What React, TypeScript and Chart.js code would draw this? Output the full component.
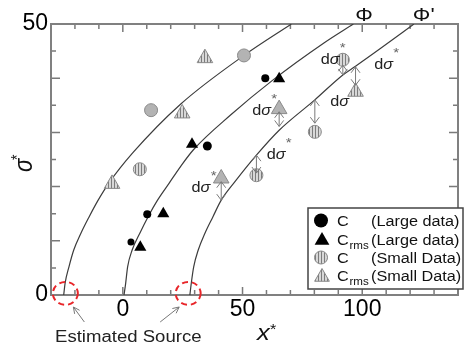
import React, { useEffect, useRef } from 'react';
import { Chart, registerables } from 'chart.js';
Chart.register(...registerables);

// ---------------- data ----------------
const xRange = [-30, 140];
const yRange = [0, 50];
const xTickLabels = [0, 50, 100];
const yTickLabels = [0, 50];

// curves (left source curve, Φ, Φ')
const curveAX = [-24.7, -24.1, -22.5, -20.5, -17.5, -14.1, -10.3, -5.9, 4.3, 24.1, 50.6, 70.4];
const curveAY = [0, 2.2, 5.2, 8.3, 11.4, 14.4, 17.5, 20.6, 26.3, 35.2, 44.2, 50];
const curvePhiX = [0.5, 1.2, 2.0, 3.9, 7.1, 10.5, 14.5, 19.3, 24.1, 29.5, 45, 62.5, 84, 96.3];
const curvePhiY = [0, 2.2, 5.2, 8.3, 11.4, 14.4, 17.5, 20.6, 23.7, 26.8, 33.2, 39.6, 46.5, 50];
const curvePhi2X = [28, 28.6, 29.6, 31.5, 34.3, 37.6, 41.1, 47, 55.8, 65.3, 80.2, 91.9, 97.2, 108, 121.6];
const curvePhi2Y = [0, 2.2, 5.2, 8.3, 11.4, 14.4, 17.5, 21, 25.8, 30.4, 36, 40.6, 42.2, 45.6, 50];

// markers
const cLargeX = [3.4, 10.2, 35.3, 59.5];
const cLargeY = [9.8, 14.9, 27.5, 40.0];
const cRmsLargeX = [7.3, 16.9, 28.9, 65.3];
const cRmsLargeY = [8.8, 15.0, 27.8, 39.9];
const cSmallX = [11.8, 7.1, 50.6, 55.8, 91.9, 80.2];
const cSmallY = [34.1, 23.2, 44.2, 22.1, 43.4, 30.1];
const cRmsSmallX = [-4.5, 24.8, 34.3, 41.1, 65.3, 97.2];
const cRmsSmallY = [20.5, 33.5, 43.7, 21.5, 34.3, 37.5];

// dσ* arrows: x, sigma at curve, sigma at marker
const dArrowX = [41.1, 65.3, 55.8, 80.2, 91.9, 97.2];
const dArrowFrom = [17.5, 31.1, 25.8, 36.0, 40.6, 42.1];
const dArrowTo = [20.9, 33.8, 22.5, 31.7, 42.4, 38.7];
// dσ* labels
const dLabelX = [32.9, 58.2, 64.3, 90.8, 86.8, 109.2];
const dLabelY = [20.0, 34.1, 26.1, 35.8, 43.5, 42.7];
const dLabelStar = [true, true, true, false, true, true];

// estimated sources
const sourceX = [-24, 27.3];
const sourceY = [0.3, 0.3];

// curve names
const phiLabels = ['Φ', "Φ'"];
const phiLabelX = [100.6, 124.7];

const legendNames = ['C', 'C', 'C', 'C'];
const legendSubs = ['', 'rms', '', 'rms'];
const legendDesc = ['(Large data)', '(Large data)', '(Small Data)', '(Small Data)'];

// ---------------- styles ----------------
const FONT = "'Liberation Sans', Arial, sans-serif";
const SX = 1.16;
const cLargeRadius = [3.5, 4, 4.5, 4];
const cSmallHatched = [false, true, false, true, true, true];
const cRmsSmallHatched = [true, true, true, false, false, true];

const zip = (xs: number[], ys: number[]) => xs.map((x, i) => ({ x, y: ys[i] }));

function sText(ctx: CanvasRenderingContext2D, text: string, x: number, y: number, font: string, align: CanvasTextAlign = 'left', color = '#111') {
  ctx.save();
  ctx.font = font;
  ctx.fillStyle = color;
  ctx.textAlign = align;
  ctx.textBaseline = 'alphabetic';
  ctx.translate(x, y);
  ctx.scale(SX, 1);
  ctx.fillText(text, 0, 0);
  const w = ctx.measureText(text).width * SX;
  ctx.restore();
  return w;
}

function tri(ctx: CanvasRenderingContext2D, x: number, y: number, r: number) {
  ctx.beginPath();
  ctx.moveTo(x, y - r);
  ctx.lineTo(x + 0.866 * r, y + 0.5 * r);
  ctx.lineTo(x - 0.866 * r, y + 0.5 * r);
  ctx.closePath();
}

function vArrow(ctx: CanvasRenderingContext2D, x: number, y1: number, y2: number) {
  const d = y1 < y2 ? 1 : -1;
  const h = 6, w = 4.5;
  ctx.beginPath();
  ctx.moveTo(x, y1); ctx.lineTo(x, y2);
  ctx.moveTo(x - w, y1 + d * h); ctx.lineTo(x, y1); ctx.lineTo(x + w, y1 + d * h);
  ctx.moveTo(x - w, y2 - d * h); ctx.lineTo(x, y2); ctx.lineTo(x + w, y2 - d * h);
  ctx.stroke();
}

function arrowTo(ctx: CanvasRenderingContext2D, x0: number, y0: number, x1: number, y1: number) {
  const a = Math.atan2(y1 - y0, x1 - x0);
  const h = 7, s = 0.45;
  ctx.beginPath();
  ctx.moveTo(x0, y0); ctx.lineTo(x1, y1);
  ctx.moveTo(x1 - h * Math.cos(a - s), y1 - h * Math.sin(a - s));
  ctx.lineTo(x1, y1);
  ctx.lineTo(x1 - h * Math.cos(a + s), y1 - h * Math.sin(a + s));
  ctx.stroke();
}

export default function App() {
  const ref = useRef<HTMLCanvasElement>(null);
  useEffect(() => {
    const canvas = ref.current!;
    const c2 = canvas.getContext('2d')!;
    const pc = document.createElement('canvas');
    pc.width = 3; pc.height = 3;
    const p = pc.getContext('2d')!;
    p.fillStyle = '#d8d8d8'; p.fillRect(0, 0, 3, 3);
    p.fillStyle = '#7c7c7c'; p.fillRect(0, 0, 1, 3);
    const hatch = c2.createPattern(pc, 'repeat')!;
    const plain = '#b3b3b3';

    const plugin = {
      id: 'annot',
      beforeDatasetsDraw(chart: any) {
        const { ctx, chartArea: a, scales } = chart;
        const xs = scales.x, ys = scales.y;
        ctx.save();
        ctx.strokeStyle = '#7a7a7a';
        ctx.lineWidth = 1.5;
        xs.ticks.forEach((t: any) => {
          const px = xs.getPixelForValue(t.value);
          const len = t.value % 50 === 0 ? 8 : 5;
          ctx.beginPath();
          ctx.moveTo(px, a.bottom); ctx.lineTo(px, a.bottom - len);
          ctx.moveTo(px, a.top); ctx.lineTo(px, a.top + len);
          ctx.stroke();
        });
        ys.ticks.forEach((t: any) => {
          const py = ys.getPixelForValue(t.value);
          const len = t.value % 10 === 0 ? 9 : 5;
          ctx.beginPath();
          ctx.moveTo(a.left, py); ctx.lineTo(a.left + len, py);
          ctx.moveTo(a.right, py); ctx.lineTo(a.right - len, py);
          ctx.stroke();
        });
        ctx.lineWidth = 2;
        ctx.strokeStyle = '#808080';
        ctx.strokeRect(a.left, a.top, a.right - a.left, a.bottom - a.top);
        ctx.restore();
      },
      afterDatasetsDraw(chart: any) {
        const { ctx, scales } = chart;
        const xs = scales.x, ys = scales.y;
        const X = (v: number) => xs.getPixelForValue(v);
        const Y = (v: number) => ys.getPixelForValue(v);
        ctx.save();
        // dσ arrows
        ctx.strokeStyle = '#7a7a7a';
        ctx.lineWidth = 1;
        dArrowX.forEach((x, i) => vArrow(ctx, X(x), Y(dArrowFrom[i]), Y(dArrowTo[i])));
        // dσ labels
        dLabelX.forEach((x, i) => {
          const cx = X(x), cy = Y(dLabelY[i]);
          const wd = sText(ctx, 'd', cx - 10, cy + 5, `14px ${FONT}`, 'left', '#222');
          sText(ctx, 'σ', cx - 10 + wd, cy + 5, `italic 14px ${FONT}`, 'left', '#222');
          if (dLabelStar[i]) sText(ctx, '*', cx + 12, cy - 7, `13px ${FONT}`, 'center', '#666');
        });
        // Φ labels
        phiLabelX.forEach((x, i) => {
          sText(ctx, phiLabels[i], X(x) - 8.5, 21, `19px ${FONT}`, 'left', '#111');
        });
        // estimated sources
        ctx.strokeStyle = '#e8262a';
        ctx.lineWidth = 2;
        ctx.setLineDash([6, 4]);
        sourceX.forEach((x, i) => {
          ctx.beginPath();
          ctx.ellipse(X(x), Y(sourceY[i]), 12.5, 11.5, 0, 0, Math.PI * 2);
          ctx.stroke();
        });
        ctx.setLineDash([]);
        ctx.strokeStyle = '#777';
        ctx.lineWidth = 1;
        const s0 = X(sourceX[0]), s1 = X(sourceX[1]);
        arrowTo(ctx, s0 + 19, 322, s0 + 8, 307);
        arrowTo(ctx, s1 - 28, 322, s1 - 9, 307);
        sText(ctx, 'Estimated Source', 55, 341.5, `16px ${FONT}`, 'left', '#222');
        // axis titles
        sText(ctx, 'x', 257, 340, `italic 22px ${FONT}`, 'left', '#111');
        sText(ctx, '*', 270, 334, `14px ${FONT}`, 'left', '#111');
        ctx.save();
        ctx.translate(32, 172);
        ctx.rotate(-Math.PI / 2);
        ctx.scale(1, SX);
        ctx.font = `italic 22px ${FONT}`;
        ctx.fillStyle = '#111';
        ctx.textAlign = 'left';
        ctx.fillText('σ', 0, 0);
        ctx.font = `14px ${FONT}`;
        ctx.fillText('*', 12, -8);
        ctx.restore();
        // legend
        ctx.fillStyle = '#fff';
        ctx.fillRect(308, 208, 155, 81);
        ctx.strokeStyle = '#444';
        ctx.lineWidth = 1.5;
        ctx.strokeRect(308, 208, 155, 81);
        const rows = [220.5, 239.5, 257.5, 276];
        rows.forEach((ry, i) => {
          const mx = 321;
          ctx.lineWidth = 1;
          if (i === 0) { ctx.beginPath(); ctx.arc(mx, ry, 7, 0, Math.PI * 2); ctx.fillStyle = '#000'; ctx.fill(); }
          if (i === 1) { tri(ctx, mx + 1, ry + 1, 8.5); ctx.fillStyle = '#000'; ctx.fill(); }
          if (i === 2) { ctx.beginPath(); ctx.arc(mx, ry, 6.5, 0, Math.PI * 2); ctx.fillStyle = hatch; ctx.fill(); ctx.strokeStyle = '#888'; ctx.stroke(); }
          if (i === 3) { tri(ctx, mx + 1, ry + 1, 8.5); ctx.fillStyle = hatch; ctx.fill(); ctx.strokeStyle = '#888'; ctx.stroke(); }
          sText(ctx, legendNames[i], 337, ry + 5, `14px ${FONT}`, 'left', '#111');
          if (legendSubs[i]) sText(ctx, legendSubs[i], 349.5, ry + 9, `10px ${FONT}`, 'left', '#111');
          sText(ctx, legendDesc[i], 371, ry + 5, `14px ${FONT}`, 'left', '#111');
        });
        ctx.restore();
      },
    };

    const curveStyle = {
      showLine: true, pointRadius: 0, borderColor: '#3c3c3c', borderWidth: 1.2,
      cubicInterpolationMode: 'monotone' as const, order: 10, fill: false,
    };

    const chart = new Chart(canvas, {
      type: 'scatter',
      data: {
        datasets: [
          { ...curveStyle, label: 'A', data: zip(curveAX, curveAY) },
          { ...curveStyle, label: 'Φ', data: zip(curvePhiX, curvePhiY) },
          { ...curveStyle, label: "Φ'", data: zip(curvePhi2X, curvePhi2Y) },
          {
            label: 'C large', data: zip(cLargeX, cLargeY), pointStyle: 'circle',
            pointRadius: cLargeRadius, backgroundColor: '#000', borderColor: '#000', borderWidth: 0, order: 1,
          },
          {
            label: 'Crms large', data: zip(cRmsLargeX, cRmsLargeY), pointStyle: 'triangle',
            pointRadius: 7, backgroundColor: '#000', borderColor: '#000', borderWidth: 0, order: 1,
          },
          {
            label: 'C small', data: zip(cSmallX, cSmallY), pointStyle: 'circle', pointRadius: 6.5,
            backgroundColor: cSmallHatched.map((h) => (h ? hatch : plain)), borderColor: '#8a8a8a', borderWidth: 1, order: 2,
          },
          {
            label: 'Crms small', data: zip(cRmsSmallX, cRmsSmallY), pointStyle: 'triangle', pointRadius: 9,
            backgroundColor: cRmsSmallHatched.map((h) => (h ? hatch : plain)), borderColor: '#8a8a8a', borderWidth: 1, order: 2,
          },
        ] as any,
      },
      options: {
        animation: false,
        responsive: true,
        maintainAspectRatio: false,
        layout: { padding: { top: 24, right: 0, left: 0, bottom: 0 } },
        plugins: { legend: { display: false }, tooltip: { enabled: false } },
        scales: {
          x: {
            type: 'linear', min: xRange[0], max: xRange[1],
            grid: { display: false, drawTicks: false, tickLength: 0 },
            border: { display: false },
            ticks: {
              stepSize: 10, autoSkip: false, maxRotation: 0, padding: 1, color: '#000',
              font: { size: 23, family: FONT },
              callback: (v: any) => (xTickLabels.includes(Number(v)) ? String(v) : ''),
            },
            afterFit: (s: any) => { s.height = 56; },
          },
          y: {
            type: 'linear', min: yRange[0], max: yRange[1],
            grid: { display: false, drawTicks: false, tickLength: 0 },
            border: { display: false },
            ticks: {
              stepSize: 5, autoSkip: false, padding: 3, color: '#000',
              font: { size: 23, family: FONT },
              callback: (v: any) => (yTickLabels.includes(Number(v)) ? String(v) : ''),
            },
            afterFit: (s: any) => { s.width = 51; },
          },
        },
      } as any,
      plugins: [plugin],
    });
    return () => chart.destroy();
  }, []);
  return (
    <div style={{ position: 'absolute', left: 0, top: 0, width: 468, height: 351, background: '#fff' }}>
      <canvas ref={ref} />
    </div>
  );
}
